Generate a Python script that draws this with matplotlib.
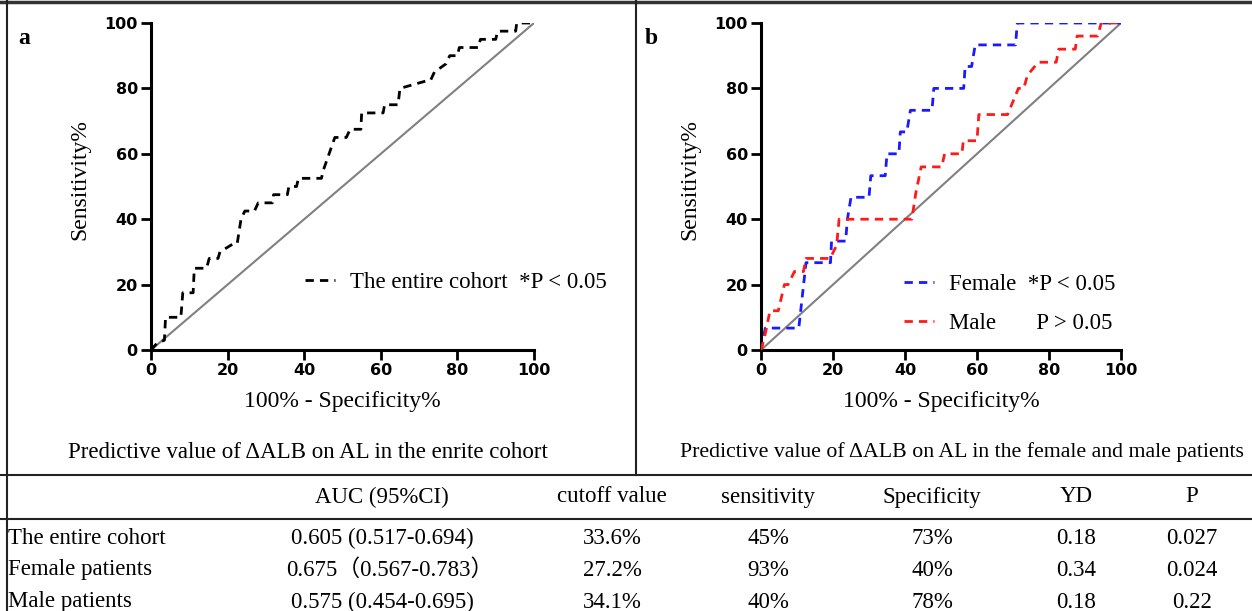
import matplotlib
matplotlib.use("Agg")
import matplotlib.pyplot as plt

# ROC corners: 100% - specificity (x) and sensitivity (y)
cohort_fpr = [0, 1.5, 3.5, 3.8, 7.8, 8.3, 11, 11.3, 14.5, 15.2, 17.5, 18, 21.5, 22.5, 23.5, 24.5,
              27, 28, 31.7, 32, 35.6, 36, 38, 38.5, 44.5, 45, 46.5, 48, 51, 52, 54.8, 55, 60.6,
              61, 64.5, 65, 72.5, 73, 74, 77, 78, 80, 80.5, 85.5, 86, 90, 90.5, 95.2, 95.5, 100]
cohort_tpr = [0, 2, 3, 10, 10, 17.5, 17.5, 25, 25, 28, 28, 30, 32.5, 32.5, 40, 42.5,
              42.5, 45, 45, 47.5, 47.5, 50, 50, 52.5, 52.5, 55, 60, 65, 65, 67.5, 67.5, 72.5, 72.5,
              75, 75, 80, 82.5, 82.5, 85, 87.5, 90, 90, 92.5, 92.5, 95, 95, 97.5, 97.5, 100, 100]

female_fpr = [0, 1.2, 10.5, 12.5, 19.3, 19.6, 23.5, 24, 25, 30, 30.5, 34.5, 35, 38.3, 38.7, 40.5,
              41.5, 47.5, 48, 56.3, 56.7, 58.5, 59.5, 70.7, 71.2, 100]
female_tpr = [0, 6.7, 6.7, 26.7, 26.7, 33.3, 33.3, 40, 46.7, 46.7, 53.3, 53.3, 60, 60, 66.7, 66.7,
              73.3, 73.3, 80, 80, 86.7, 86.7, 93.3, 93.3, 100, 100]

male_fpr = [0, 1, 2.5, 4.8, 6.5, 7.5, 9.3, 11.8, 12.5, 19.2, 21, 21.7, 41.9, 43, 44.5, 50.2, 51,
            55.8, 56.2, 60, 60.5, 68.5, 70, 71.5, 73, 74, 77, 82, 82.7, 87.3, 87.8, 93.5, 94.5, 100]
male_tpr = [0, 4, 12, 12, 20, 20, 24, 24, 28, 28, 32, 40, 40, 48, 56, 56, 60,
            60, 64, 64, 72, 72, 76, 80, 80, 84, 88, 88, 92, 92, 96, 96, 100, 100]

ticks = [0, 20, 40, 60, 80, 100]

col_heads = ["", "AUC (95%CI)", "cutoff value", "sensitivity", "Specificity", "YD", "P"]
row_names = ["The entire cohort", "Female patients", "Male patients"]
auc_ci = ["0.605 (0.517-0.694)", "0.675（0.567-0.783）", "0.575 (0.454-0.695)"]
cutoff = ["33.6%", "27.2%", "34.1%"]
sens = ["45%", "93%", "40%"]
spec = ["73%", "40%", "78%"]
yd = ["0.18", "0.34", "0.18"]
pval = ["0.027", "0.024", "0.22"]

W, H = 1252, 611
fig = plt.figure(figsize=(W / 100, H / 100), dpi=100)

serif = ["Liberation Serif", "Noto Sans CJK SC", "DejaVu Serif"]
FS = 16.5
tick_font = matplotlib.font_manager.FontProperties(family="DejaVu Sans", weight="bold", size=11.5)

# background layer in pixel coordinates for frame lines and text
bg = fig.add_axes([0, 0, 1, 1])
bg.set_xlim(0, W)
bg.set_ylim(H, 0)
bg.axis("off")
lk = dict(color="#222222", lw=1.5)
bg.plot([0, W], [2, 2], color="#333333", lw=2.5)
bg.plot([7, 7], [0, H], **lk)
bg.plot([636, 636], [0, 475], **lk)
bg.plot([0, W], [475, 475], **lk)
bg.plot([0, W], [519, 519], **lk)

bg.text(18, 38, "a", family=serif, weight="bold", size=17, va="center")
bg.text(645, 38, "b", family=serif, weight="bold", size=17, va="center")
bg.text(308, 452, "Predictive value of ΔALB on AL in the enrite cohort", family=serif,
        size=FS, ha="center", va="center")
bg.text(962, 452, "Predictive value of ΔALB on AL in the female and male patients", family=serif,
        size=15.7, ha="center", va="center")

# axis titles
for cx in (342, 941):
    bg.text(cx, 402, "100% - Specificity%", family=serif, size=17, ha="center", va="center")
for cx in (80, 690):
    bg.text(cx, 180, "Sensitivity%", family=serif, size=17, rotation=90, ha="center", va="center")

col_x = [8, 382, 612, 768, 932, 1076, 1192]
for j, h in enumerate(col_heads):
    bg.text(col_x[j], 497, h, family=serif, size=FS, ha="center", va="center")
cols = [row_names, auc_ci, cutoff, sens, spec, yd, pval]
row_y = [538, 570, 602]
for j, col in enumerate(cols):
    for i, v in enumerate(col):
        bg.text(col_x[j] + (8 if (j == 1 and i == 1) else 0), row_y[i], v, family=serif, size=FS,
                ha="left" if j == 0 else "center", va="center")


def roc_axes(left_px, right_px):
    ax = fig.add_axes([left_px / W, 1 - 350 / H, (right_px - left_px) / W, 327 / H])
    ax.plot([0, 100], [0, 100], color="#808080", lw=1.5, zorder=1)
    ax.set_xlim(0, 100)
    ax.set_ylim(0, 100)
    ax.set_xticks(ticks)
    ax.set_yticks(ticks)
    for lab in ax.get_xticklabels() + ax.get_yticklabels():
        lab.set_fontproperties(tick_font)
    ax.tick_params(width=2, length=7, pad=2.5)
    for s in ["top", "right"]:
        ax.spines[s].set_visible(False)
    for s in ["left", "bottom"]:
        ax.spines[s].set_linewidth(2.2)
    ax.patch.set_alpha(0)
    return ax


leg_kw = dict(loc="center left", frameon=False, handlelength=1.3, handletextpad=0.65,
              borderpad=0, borderaxespad=0, prop=dict(family=serif, size=FS))

ax1 = roc_axes(151, 534)
ax1.plot(cohort_fpr, cohort_tpr, color="black", lw=2, dashes=(3, 2.2), zorder=2,
         label="The entire cohort  *P < 0.05")
ax1.legend(bbox_to_anchor=(0.402, 0.205), **leg_kw)

ax2 = roc_axes(761, 1121)
ax2.plot(female_fpr, female_tpr, color="#1a1aff", lw=2, dashes=(3, 2.2), zorder=2,
         label="Female  *P < 0.05")
ax2.plot(male_fpr, male_tpr, color="#ff1a1a", lw=2, dashes=(3, 2.2), zorder=3,
         label="Male       P > 0.05")
ax2.legend(bbox_to_anchor=(0.398, 0.14), labelspacing=0.8, **leg_kw)

fig.savefig("out.png", dpi=100)
